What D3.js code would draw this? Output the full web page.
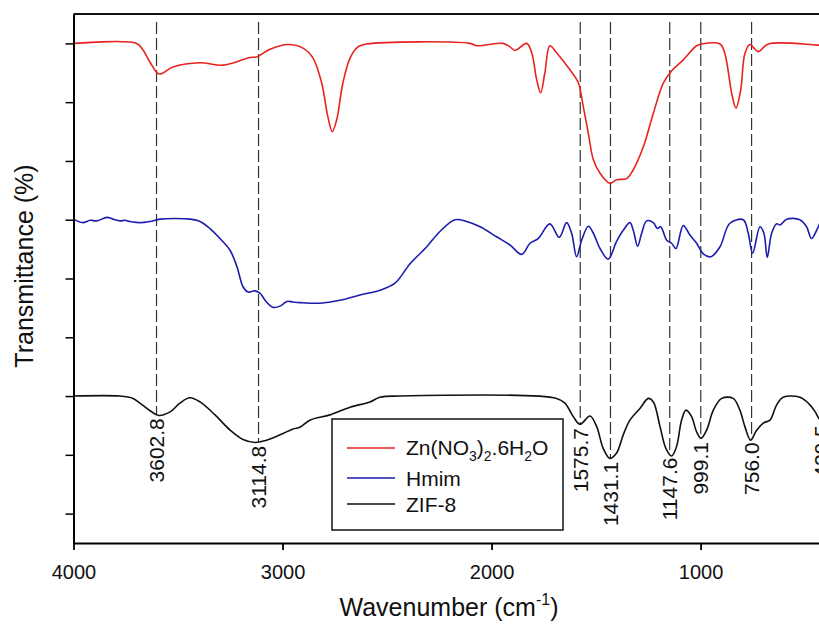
<!DOCTYPE html>
<html>
<head>
<meta charset="utf-8">
<script src="https://cdn.jsdelivr.net/npm/d3@7"></script>
<style>
  body { margin: 0; background: #fff; }
  svg { display: block; font-family: Arial, "Liberation Sans", sans-serif; }
</style>
</head>
<body>
<svg id="chart"></svg>
<script>
// FTIR spectra, transmittance in arbitrary offset units
const wnZn = [4000, 3698, 3668, 3634, 3590, 3524, 3395, 3285, 3156, 3124, 3060, 2974, 2902, 2854, 2813, 2783, 2762, 2741, 2711, 2677, 2639, 2597, 2103, 2071, 1945, 1912, 1888, 1832, 1808, 1784, 1765, 1745, 1721, 1689, 1625, 1585, 1561, 1537, 1513, 1481, 1434, 1402, 1354, 1322, 1274, 1226, 1179, 1139, 1083, 1019, 995, 907, 884, 851, 831, 808, 788, 764, 724, 676, 434, 400]
const tZn = [85.0, 85.0, 83.9, 81.8, 79.8, 81.0, 81.7, 81.3, 82.6, 82.7, 84.0, 84.8, 84.2, 82.5, 78.3, 72.5, 70.0, 72.0, 78.3, 82.5, 84.4, 84.9, 85.0, 84.6, 85.0, 84.4, 83.8, 85.0, 83.4, 78.8, 76.6, 80.0, 84.6, 83.4, 80.5, 78.3, 74.2, 69.7, 65.2, 62.9, 61.2, 61.8, 62.0, 63.5, 67.4, 73.1, 78.2, 80.3, 82.2, 84.6, 84.9, 84.9, 83.3, 76.5, 74.0, 77.1, 83.3, 84.8, 83.6, 84.9, 84.7, 84.7]

const wnHmim = [4000, 3955, 3921, 3888, 3840, 3811, 3778, 3754, 3730, 3682, 3634, 3586, 3514, 3443, 3395, 3347, 3299, 3251, 3218, 3189, 3165, 3132, 3108, 3079, 3046, 3012, 2979, 2950, 2917, 2821, 2725, 2630, 2534, 2462, 2390, 2310, 2247, 2175, 2119, 2055, 1976, 1912, 1856, 1816, 1777, 1721, 1676, 1641, 1617, 1593, 1569, 1537, 1513, 1481, 1442, 1402, 1370, 1338, 1322, 1301, 1282, 1258, 1226, 1207, 1191, 1162, 1139, 1118, 1083, 1051, 1019, 987, 950, 907, 860, 796, 772, 751, 716, 697, 681, 660, 636, 620, 588, 525, 493, 469, 437, 420, 400]
const tHmim = [55.1, 54.5, 54.9, 54.8, 55.4, 55.1, 54.8, 54.9, 54.7, 54.5, 54.7, 55.1, 55.2, 55.1, 54.7, 53.5, 51.8, 49.8, 47.0, 43.6, 42.7, 42.9, 42.5, 41.1, 40.1, 40.3, 41.1, 41.0, 40.9, 40.8, 41.3, 42.2, 43.0, 44.2, 47.5, 50.4, 53.0, 55.0, 54.7, 53.8, 52.1, 50.7, 49.1, 51.0, 51.8, 54.3, 52.0, 54.5, 52.7, 48.7, 51.5, 53.9, 52.7, 50.1, 48.3, 51.3, 53.2, 54.5, 53.2, 50.5, 52.7, 54.8, 54.5, 53.5, 53.8, 51.5, 51.0, 50.1, 54.0, 52.4, 51.0, 49.2, 48.7, 50.4, 54.4, 55.0, 52.7, 49.3, 53.8, 52.7, 48.6, 52.7, 54.3, 54.1, 55.1, 55.0, 53.8, 51.8, 53.8, 55.0, 55.2]

const wnZif = [4000, 3778, 3715, 3682, 3634, 3592, 3538, 3491, 3443, 3395, 3323, 3251, 3189, 3132, 3084, 3012, 2950, 2917, 2869, 2773, 2677, 2582, 2534, 2438, 1689, 1649, 1609, 1577, 1529, 1497, 1466, 1434, 1402, 1370, 1338, 1290, 1250, 1226, 1194, 1166, 1139, 1115, 1091, 1070, 1043, 1019, 998, 971, 939, 899, 844, 812, 788, 761, 732, 700, 668, 636, 605, 525, 485, 453, 434, 420, 400]
const tZif = [25.0, 25.0, 24.6, 23.8, 22.5, 21.7, 22.3, 23.8, 24.7, 24.0, 21.8, 19.2, 17.6, 17.1, 17.4, 18.4, 19.4, 19.7, 20.9, 21.8, 23.1, 24.0, 24.8, 25.0, 24.6, 23.8, 21.5, 20.2, 21.6, 19.8, 16.1, 14.4, 15.3, 18.4, 20.9, 22.9, 24.6, 24.0, 19.8, 16.1, 14.8, 16.4, 20.9, 22.6, 21.5, 18.9, 17.8, 19.2, 22.6, 24.6, 24.6, 22.6, 19.8, 17.5, 19.2, 20.4, 20.9, 23.5, 24.8, 24.8, 23.8, 22.4, 21.2, 20.7, 22.0]

const peaks = [3602.8, 3114.8, 1575.7, 1431.1, 1147.6, 999.1, 756.0, 420.5]
const peakLabels = ["3602.8", "3114.8", "1575.7", "1431.1", "1147.6", "999.1", "756.0", "420.5"]

const xTicks = [4000, 3000, 2000, 1000]
const yTicks = [5, 15, 25, 35, 45, 55, 65, 75, 85]

const width = 819, height = 632
const margin = {left: 73.5, top: 14, bottom: 89}
const plotRight = 826

const svg = d3.select("#chart")
  .attr("width", width)
  .attr("height", height)

const x = d3.scaleLinear().domain([4000, 400]).range([margin.left, plotRight])
const y = d3.scaleLinear().domain([0, 90]).range([height - margin.bottom, margin.top])

const series = [
  {name: "zn", wn: wnZn, t: tZn, color: "#e8231f"},
  {name: "hmim", wn: wnHmim, t: tHmim, color: "#1c1cae"},
  {name: "zif", wn: wnZif, t: tZif, color: "#111"}
]

// value of ZIF-8 curve at a wavenumber (linear between points)
function zifAt(w) {
  for (let i = 0; i < wnZif.length - 1; i++) {
    if (w <= wnZif[i] && w >= wnZif[i + 1]) {
      const f = (wnZif[i] - w) / (wnZif[i] - wnZif[i + 1])
      return tZif[i] + f * (tZif[i + 1] - tZif[i])
    }
  }
  return tZif[tZif.length - 1]
}

// dashed guide lines
svg.append("g")
  .selectAll("line")
  .data(peaks)
  .join("line")
  .attr("x1", d => x(d)).attr("x2", d => x(d))
  .attr("y1", margin.top + 8)
  .attr("y2", d => y(zifAt(d)))
  .attr("stroke", "#333")
  .attr("stroke-width", 1.2)
  .attr("stroke-dasharray", "12,4")

const line = d3.line()
  .x(d => x(d[0]))
  .y(d => y(d[1]))
  .curve(d3.curveCatmullRom.alpha(0.5))

svg.append("g")
  .selectAll("path")
  .data(series)
  .join("path")
  .attr("d", s => line(s.wn.map((w, i) => [w, s.t[i]])))
  .attr("fill", "none")
  .attr("stroke", s => s.color)
  .attr("stroke-width", 1.6)
  .attr("stroke-linejoin", "round")

// peak labels
svg.append("g")
  .selectAll("text")
  .data(peaks)
  .join("text")
  .attr("transform", d => `translate(${x(d)},${y(zifAt(d)) + 4}) rotate(-90)`)
  .attr("text-anchor", "end")
  .attr("dy", "0.36em")
  .attr("font-size", 21)
  .attr("fill", "#111")
  .text((d, i) => peakLabels[i])

// axes
const xAxis = d3.axisBottom(x).tickValues(xTicks).tickFormat(d3.format("d"))
  .tickSize(7).tickSizeOuter(0).tickPadding(15)
const gx = svg.append("g")
  .attr("transform", `translate(0,${height - margin.bottom})`)
  .call(xAxis)
gx.selectAll("text").attr("font-size", 20).attr("fill", "#111").attr("font-family", null)
gx.selectAll("line").attr("stroke-width", 1.8)
gx.select(".domain").attr("stroke-width", 2.2)

const yAxis = d3.axisLeft(y).tickValues(yTicks).tickSize(8).tickSizeOuter(0).tickFormat("")
const gy = svg.append("g")
  .attr("transform", `translate(${margin.left},0)`)
  .call(yAxis)
gy.selectAll("line").attr("stroke-width", 1.5)
gy.select(".domain").attr("stroke-width", 2)

// top frame
svg.append("line")
  .attr("x1", margin.left).attr("x2", plotRight)
  .attr("y1", margin.top).attr("y2", margin.top)
  .attr("stroke", "#111").attr("stroke-width", 2)

// axis titles
const xt = svg.append("text")
  .attr("x", 449).attr("y", 616)
  .attr("text-anchor", "middle")
  .attr("font-size", 25)
  .attr("fill", "#111")
xt.append("tspan").text("Wavenumber (cm")
xt.append("tspan").attr("font-size", 16).attr("dy", -11).text("-1")
xt.append("tspan").attr("dy", 11).text(")")

svg.append("text")
  .attr("transform", "translate(33,266) rotate(-90)")
  .attr("text-anchor", "middle")
  .attr("font-size", 25)
  .attr("fill", "#111")
  .text("Transmittance (%)")

// legend
const legend = svg.append("g")
legend.append("rect")
  .attr("x", 332).attr("y", 419)
  .attr("width", 231).attr("height", 111)
  .attr("fill", "#fff")
  .attr("stroke", "#111")
  .attr("stroke-width", 1.5)

const legendRows = [448, 478, 504]
legend.selectAll("line.key")
  .data(series)
  .join("line")
  .attr("class", "key")
  .attr("x1", 347).attr("x2", 395)
  .attr("y1", (d, i) => legendRows[i]).attr("y2", (d, i) => legendRows[i])
  .attr("stroke", d => d.color)
  .attr("stroke-width", 1.6)

const t1 = legend.append("text").attr("x", 406).attr("y", legendRows[0] + 7).attr("font-size", 21).attr("fill", "#111")
t1.append("tspan").text("Zn(NO")
t1.append("tspan").attr("font-size", 14).attr("dy", 6).text("3")
t1.append("tspan").attr("dy", -6).text(")")
t1.append("tspan").attr("font-size", 14).attr("dy", 6).text("2")
t1.append("tspan").attr("dy", -6).text(".6H")
t1.append("tspan").attr("font-size", 14).attr("dy", 6).text("2")
t1.append("tspan").attr("dy", -6).text("O")

legend.append("text").attr("x", 406).attr("y", legendRows[1] + 8).attr("font-size", 21).attr("fill", "#111").text("Hmim")
legend.append("text").attr("x", 406).attr("y", legendRows[2] + 8).attr("font-size", 21).attr("fill", "#111").text("ZIF-8")
</script>
</body>
</html>
